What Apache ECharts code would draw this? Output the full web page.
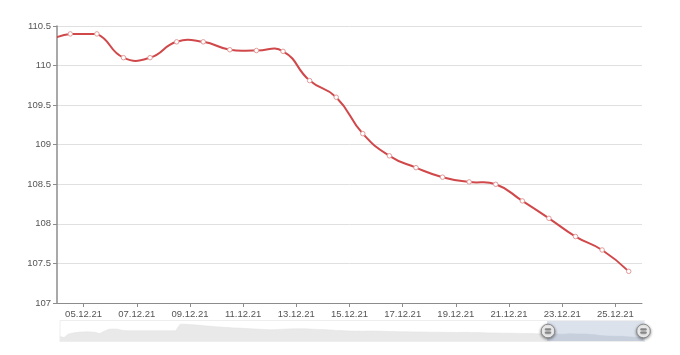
<!DOCTYPE html>
<html><head><meta charset="utf-8">
<script src="https://cdn.jsdelivr.net/npm/echarts@6/dist/echarts.min.js"></script>
<style>html,body{margin:0;padding:0;background:#fff}#c{width:680px;height:355px}</style>
</head><body><div id="c"></div>
<script>
// Daily history (read from the zoom slider's data shadow), 16.08.2021 - 03.12.2021
const historyStartDate = [2021, 7, 16];
const historyValues = [
  108.5, 107.6, 110.2, 110.9, 111.4, 111.6, 111.8, 111.7, 111.4, 110.5,
  112.2, 113.6, 113.8, 113.7, 112.9, 112.6, 112.6, 112.6, 112.6, 112.6,
  112.6, 112.6, 112.6, 112.6, 112.6, 112.6, 112.6, 117.3, 117.2, 117.0,
  116.8, 116.6, 116.3, 116.0, 115.7, 115.4, 115.2, 115.0, 114.8, 114.6,
  114.5, 114.3, 114.1, 113.9, 113.8, 113.6, 113.4, 113.3, 113.3, 113.5,
  113.7, 113.8, 113.9, 114.0, 114.0, 114.0, 113.8, 113.6, 113.5, 113.4,
  113.2, 113.0, 112.8, 112.7, 112.5, 112.4, 112.3, 112.3, 112.2, 112.3,
  112.4, 112.3, 112.2, 112.1, 112.0, 112.0, 111.9, 111.8, 111.8, 111.7,
  111.7, 111.6, 111.6, 111.5, 111.5, 111.5, 111.4, 111.4, 111.4, 111.3,
  111.4, 111.4, 111.3, 111.3, 111.2, 111.1, 111.0, 111.0, 110.9, 110.8,
  110.8, 110.7, 110.7, 110.6, 110.6, 110.5, 110.5, 110.4, 110.4, 110.33
];
// Visible period
const recentDates = ['04.12','05.12','06.12','07.12','08.12','09.12','10.12','11.12','12.12','13.12','14.12',
  '15.12','16.12','17.12','18.12','19.12','20.12','21.12','22.12','23.12','24.12','25.12'];
const recentValues = [110.4, 110.4, 110.1, 110.1, 110.3, 110.3, 110.2, 110.19, 110.18, 109.81, 109.6,
  109.14, 108.86, 108.71, 108.59, 108.53, 108.5, 108.29, 108.07, 107.84, 107.67, 107.4];
const yMin = 107, yMax = 110.5, yStep = 0.5;

const DAY = 86400000;
const data = [];
historyValues.forEach(function (v, i) {
  data.push([new Date(historyStartDate[0], historyStartDate[1], historyStartDate[2] + i, 12).getTime(), v]);
});
recentDates.forEach(function (d, i) {
  const p = d.split('.');
  data.push([new Date(2021, +p[1] - 1, +p[0], 12).getTime(), recentValues[i]]);
});

const axisMin = new Date(historyStartDate[0], historyStartDate[1], historyStartDate[2]).getTime();
const axisMax = new Date(2021, 11, 26).getTime();
const viewStart = new Date(2021, 11, 4).getTime();

const lineColor = '#d0484a';
const font = '"Liberation Sans", sans-serif';
const smooth = 0.5;
const n = data.length;
let vMin = Infinity, vMax = -Infinity;
data.forEach(function (d) {
  if (d[0] >= viewStart - DAY) { vMin = Math.min(vMin, d[1]); vMax = Math.max(vMax, d[1]); }
});

// Smoothed segments (bezier control points from neighbours, constrained to the
// visible data's extent), positioned through the axis scales with api.coord
function renderCurve(params, api) {
  const i = params.dataIndex;
  if (i >= n - 1) return null;
  const P = function (j) { return (j < 0 || j >= n) ? null : api.coord(data[j]); };
  const pPrev = P(i - 1), p1 = P(i), p2 = P(i + 1), pNext = P(i + 2);
  const yTop = api.coord([data[i][0], vMax])[1];
  const yBot = api.coord([data[i][0], vMin])[1];
  function ctrl(p, prev, next, after) {
    if (!prev || !next) return [p[0], p[1]];
    const vx = next[0] - prev[0], vy = next[1] - prev[1];
    const lp = Math.hypot(p[0] - prev[0], p[1] - prev[1]);
    const ln = Math.hypot(p[0] - next[0], p[1] - next[1]);
    const r = ln / (lp + ln);
    const k = after ? smooth * r : -smooth * (1 - r);
    const c = [p[0] + vx * k, p[1] + vy * k];
    c[1] = Math.min(Math.max(c[1], yTop), yBot);
    return c;
  }
  const c1 = ctrl(p1, pPrev, p2, true);
  const c2 = ctrl(p2, p1, pNext, false);
  return {
    type: 'bezierCurve',
    shape: {x1: p1[0], y1: p1[1], x2: p2[0], y2: p2[1], cpx1: c1[0], cpy1: c1[1], cpx2: c2[0], cpy2: c2[1]},
    style: {stroke: lineColor, lineWidth: 2, fill: null, lineCap: 'round'},
    silent: true
  };
}

const chart = echarts.init(document.getElementById('c'), null, {renderer: 'canvas'});
chart.setOption({
  animation: false,
  backgroundColor: '#fff',
  grid: {left: 57, right: 38, top: 26, bottom: 52, containLabel: false},
  xAxis: {
    type: 'time', min: axisMin, max: axisMax,
    minInterval: 2 * DAY, maxInterval: 2 * DAY,
    axisLine: {show: true, lineStyle: {color: '#8c8c8c', width: 1}},
    axisTick: {show: true, length: 4, lineStyle: {color: '#8c8c8c'}},
    splitLine: {show: false},
    axisLabel: {formatter: '{dd}.{MM}.{yy}', color: '#555', fontSize: 9.5, fontFamily: font, margin: 6, hideOverlap: false}
  },
  yAxis: {
    type: 'value', min: yMin, max: yMax, interval: yStep,
    axisLine: {show: true, lineStyle: {color: '#8c8c8c', width: 1.5}},
    axisTick: {show: true, length: 4, lineStyle: {color: '#8c8c8c'}},
    splitLine: {show: true, lineStyle: {color: '#e0e0e0', width: 1}},
    axisLabel: {color: '#555', fontSize: 9.5, fontFamily: font, margin: 6}
  },
  dataZoom: [{
    type: 'slider', xAxisIndex: 0, filterMode: 'none',
    startValue: viewStart, endValue: axisMax,
    left: 57, right: 38, top: 320, height: 22,
    showDetail: false, brushSelect: false,
    backgroundColor: 'rgba(0,0,0,0)', borderColor: '#eeeeee',
    fillerColor: 'rgba(190,202,220,0.55)',
    dataBackground: {lineStyle: {color: '#e3e3e3', width: 0.5}, areaStyle: {color: '#e9e9e9', opacity: 1}},
    selectedDataBackground: {lineStyle: {color: '#c6ccd6', width: 0.5}, areaStyle: {color: '#d4d6dc', opacity: 1}},
    handleIcon: 'path://M0,-10A10,10,0,1,1,0,10A10,10,0,1,1,0,-10Z M-4,-3.2L-4,-1.6L4,-1.6L4,-3.2Z M-4,1.6L-4,3.2L4,3.2L4,1.6Z',
    handleSize: '62%',
    handleStyle: {color: '#fff', borderColor: '#8a8a8a', borderWidth: 1, shadowBlur: 3, shadowColor: 'rgba(0,0,0,0.45)', shadowOffsetY: 1},
    moveHandleSize: 0,
    moveHandleStyle: {opacity: 0}
  }],
  series: [{
    type: 'custom', data: data, encode: {x: 0, y: 1}, clip: true,
    renderItem: renderCurve, silent: true, z: 2
  }, {
    type: 'line', data: data, smooth: false,
    symbol: 'circle', symbolSize: 4.5, showAllSymbol: true,
    lineStyle: {width: 0, opacity: 0},
    itemStyle: {color: '#ffffff', borderColor: '#e39a9a', borderWidth: 1},
    emphasis: {disabled: true}, z: 3
  }]
});
</script>
</body></html>
